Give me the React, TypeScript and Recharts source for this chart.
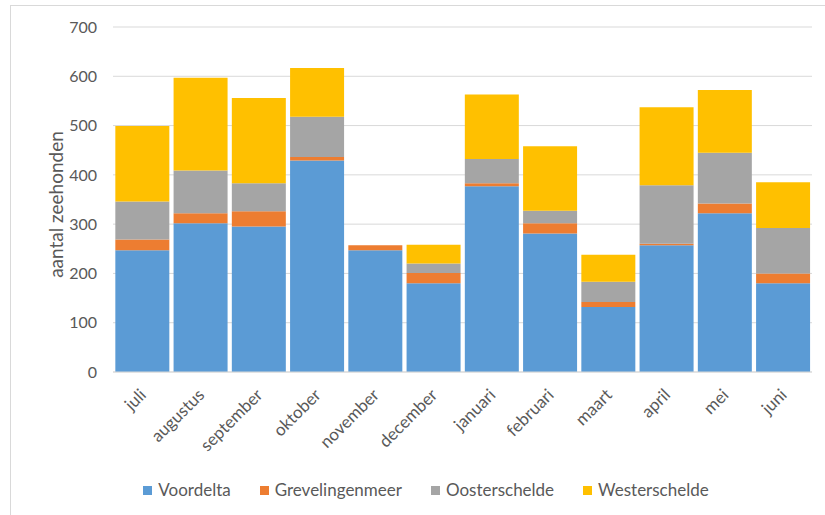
import React from 'react';
import { BarChart, Bar, XAxis, YAxis, CartesianGrid, Legend, Label } from 'recharts';

const months = ['juli', 'augustus', 'september', 'oktober', 'november', 'december', 'januari', 'februari', 'maart', 'april', 'mei', 'juni'];
const voordelta = [247, 302, 295, 429, 247, 180, 377, 281, 132, 257, 322, 180];
const grevelingenmeer = [22, 20, 31, 7, 10, 21, 6, 21, 10, 3, 20, 20];
const oosterschelde = [77, 87, 57, 82, 0, 19, 49, 25, 41, 119, 103, 92];
const westerschelde = [153, 188, 173, 99, 0, 38, 131, 131, 55, 158, 127, 93];
const yTicks = [0, 100, 200, 300, 400, 500, 600, 700];

const series = [
  { key: 'Voordelta', color: '#5B9BD5' },
  { key: 'Grevelingenmeer', color: '#ED7D31' },
  { key: 'Oosterschelde', color: '#A5A5A5' },
  { key: 'Westerschelde', color: '#FFC000' },
];

const data = months.map((m, i) => ({
  maand: m,
  Voordelta: voordelta[i],
  Grevelingenmeer: grevelingenmeer[i],
  Oosterschelde: oosterschelde[i],
  Westerschelde: westerschelde[i],
}));

const font = 'Lato, "Noto Sans", sans-serif';
const grey = '#595959';

// month names slanted 45 degrees, ending just under the bar centre
function MonthTick({ x, y, payload }: any) {
  return (
    <g transform={`translate(${x + 5},${y + 24})`}>
      <text x={0} y={0} textAnchor="end" transform="rotate(-45)" fill={grey} fontSize={17} fontFamily={font}>
        {payload.value}
      </text>
    </g>
  );
}

// vertical axis title, placed left of the tick numbers
function AxisTitle({ viewBox }: any) {
  const cx = viewBox.x + 55;
  const cy = viewBox.y + viewBox.height / 2 + 5;
  return (
    <text
      x={cx}
      y={cy}
      transform={`rotate(-90, ${cx}, ${cy})`}
      textAnchor="middle"
      dominantBaseline="central"
      fill={grey}
      fontSize={19}
      fontFamily={font}
    >
      aantal zeehonden
    </text>
  );
}

function SeriesLegend() {
  return (
    <div style={{ display: 'flex', justifyContent: 'center', gap: 29, height: 30, lineHeight: '30px', paddingLeft: 40, fontFamily: font, fontSize: 17, color: grey }}>
      {series.map((s) => (
        <span key={s.key} style={{ display: 'inline-flex', alignItems: 'center' }}>
          <span style={{ width: 9, height: 9, background: s.color, marginRight: 6, display: 'inline-block' }} />
          {s.key}
        </span>
      ))}
    </div>
  );
}

export default function App() {
  return (
    <div style={{ position: 'absolute', left: 0, top: 0, width: 825, height: 515, overflow: 'hidden', background: '#fff' }}>
      <div style={{ position: 'absolute', left: 10, top: 5, width: 830, height: 530, border: '1px solid #d9d9d9' }} />
      <BarChart width={825} height={515} data={data} margin={{ top: 27, right: 13, bottom: 10, left: 0 }} barCategoryGap="4%">
        <CartesianGrid vertical={false} stroke="#d9d9d9" />
        <XAxis dataKey="maand" height={103} tickLine={false} tickSize={0} tickMargin={0} axisLine={{ stroke: '#d9d9d9' }} tick={<MonthTick />} interval={0} />
        <YAxis
          width={113}
          domain={[0, 700]}
          ticks={yTicks}
          axisLine={false}
          tickLine={false}
          tickSize={0}
          tickMargin={16}
          tick={{ fill: grey, fontSize: 16, fontFamily: font }}
        >
          <Label content={<AxisTitle />} />
        </YAxis>
        <Legend verticalAlign="bottom" content={() => <SeriesLegend />} />
        {series.map((s) => (
          <Bar key={s.key} dataKey={s.key} stackId="a" fill={s.color} isAnimationActive={false} />
        ))}
      </BarChart>
    </div>
  );
}
